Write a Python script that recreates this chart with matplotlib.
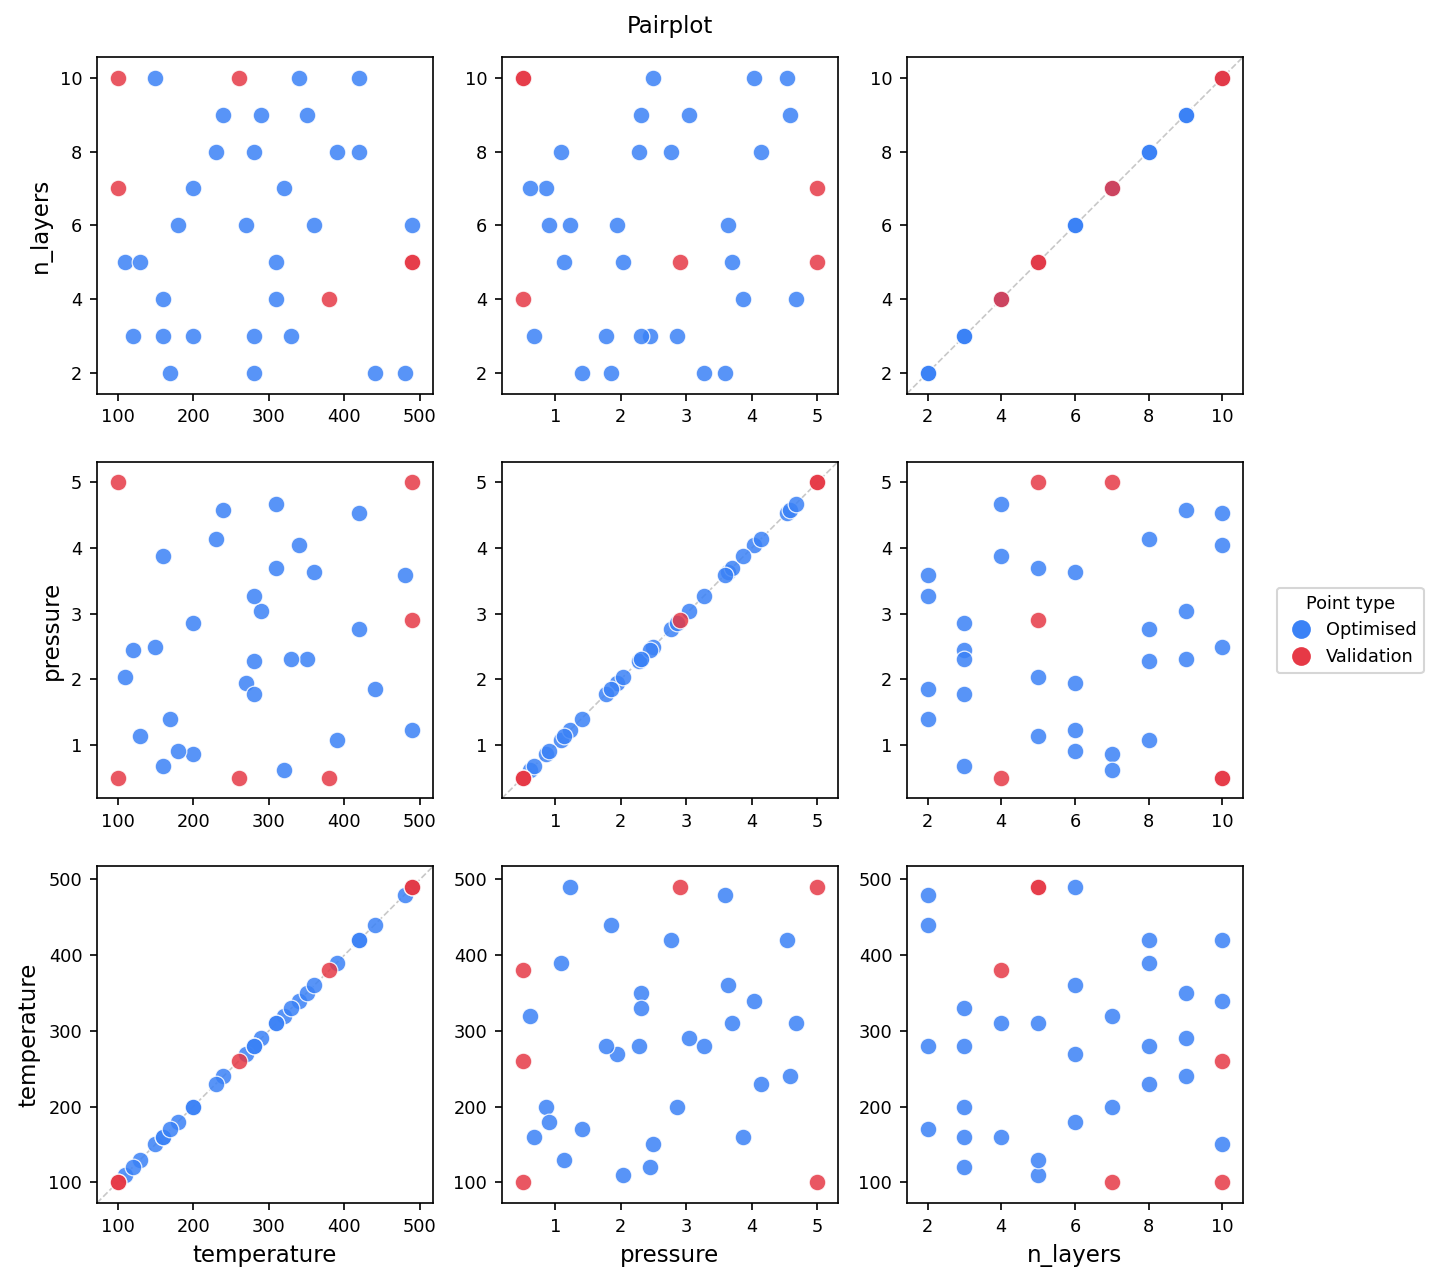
import numpy as np
import matplotlib.pyplot as plt
from matplotlib.ticker import MultipleLocator

# optimised runs
opt_temperature = [150, 340, 420, 240, 290, 350, 230, 280, 390, 420,
                   200, 320, 180, 270, 360, 490, 110, 130, 310, 160,
                   310, 120, 160, 200, 280, 330, 170, 280, 440, 480]
opt_pressure = [2.49, 4.04, 4.53, 4.58, 3.04, 2.31, 4.14, 2.27, 1.08, 2.77,
                0.86, 0.62, 0.90, 1.94, 3.64, 1.22, 2.04, 1.13, 3.69, 3.87,
                4.67, 2.45, 0.67, 2.86, 1.77, 2.31, 1.40, 3.27, 1.85, 3.59]
opt_layers = [10, 10, 10, 9, 9, 9, 8, 8, 8, 8,
              7, 7, 6, 6, 6, 6, 5, 5, 5, 4,
              4, 3, 3, 3, 3, 3, 2, 2, 2, 2]

# validation runs
val_temperature = [100, 100, 490, 490, 260, 380]
val_pressure = [5.0, 0.5, 5.0, 2.9, 0.5, 0.5]
val_layers = [7, 10, 5, 5, 10, 4]

opt = {'temperature': opt_temperature, 'pressure': opt_pressure, 'n_layers': opt_layers}
val = {'temperature': val_temperature, 'pressure': val_pressure, 'n_layers': val_layers}
steps = {'temperature': 100, 'pressure': 1, 'n_layers': 2}

blue = '#3b82f6'
red = '#e63946'

fig, axes = plt.subplots(3, 3, figsize=(1434/150, 1284/150), dpi=150)
fig.subplots_adjust(left=0.0676, right=0.8668, bottom=0.0631, top=0.9556,
                    wspace=0.205, hspace=0.202)

rows = ['n_layers', 'pressure', 'temperature']
cols = ['temperature', 'pressure', 'n_layers']

for i, yv in enumerate(rows):
    for j, xv in enumerate(cols):
        ax = axes[i, j]
        ax.scatter(opt[xv], opt[yv], s=64, c=blue, alpha=0.85,
                   edgecolors='white', linewidths=0.6, zorder=3)
        ax.scatter(val[xv], val[yv], s=64, c=red, alpha=0.85,
                   edgecolors='white', linewidths=0.6, zorder=4)
        allx = np.array(opt[xv] + val[xv], dtype=float)
        ally = np.array(opt[yv] + val[yv], dtype=float)
        px = 0.07 * (allx.max() - allx.min())
        py = 0.07 * (ally.max() - ally.min())
        ax.set_xlim(allx.min() - px, allx.max() + px)
        ax.set_ylim(ally.min() - py, ally.max() + py)
        ax.xaxis.set_major_locator(MultipleLocator(steps[xv]))
        ax.yaxis.set_major_locator(MultipleLocator(steps[yv]))
        if xv == yv:
            lo, hi = ax.get_xlim()
            ax.plot([lo, hi], [lo, hi], ls='--', color='#c8c8c8', lw=0.8,
                    zorder=1, scalex=False, scaley=False)
        ax.tick_params(labelsize=8.5)
        if j == 0:
            ax.set_ylabel(yv, fontsize=11)
        if i == 2:
            ax.set_xlabel(xv, fontsize=11)

fig.suptitle('Pairplot', x=0.467, y=0.988, fontsize=11)

handles = [
    plt.Line2D([], [], marker='o', ls='', color=blue, markersize=8, label='Optimised'),
    plt.Line2D([], [], marker='o', ls='', color=red, markersize=8, label='Validation'),
]
fig.legend(handles=handles, title='Point type', loc='center left',
           bbox_to_anchor=(0.884, 0.509), fontsize=8.5, title_fontsize=8.5,
           handletextpad=0.4)

fig.savefig('out.png', dpi=150)
